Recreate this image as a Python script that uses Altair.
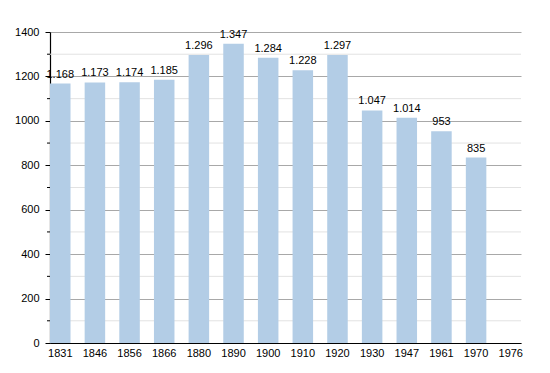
import altair as alt
import pandas as pd

years = ["1831", "1846", "1856", "1866", "1880", "1890", "1900", "1910", "1920",
         "1930", "1947", "1961", "1970", "1976"]
values = [1168, 1173, 1174, 1185, 1296, 1347, 1284, 1228, 1297, 1047, 1014, 953, 835, None]
major_ticks = [0, 200, 400, 600, 800, 1000, 1200, 1400]
minor_ticks = [100, 300, 500, 700, 900, 1100, 1300]

df = pd.DataFrame({"year": years, "value": values})
minor_df = pd.DataFrame({"v": minor_ticks})

FONT = "Liberation Sans"
BAR = "#b3cde6"

x_enc = alt.X("year:N", sort=years,
              scale=alt.Scale(domain=years, paddingInner=0.408, paddingOuter=0),
              axis=alt.Axis(title=None, labelAngle=0, ticks=False, domainColor="black",
                            domainWidth=1.2, labelFont=FONT, labelFontSize=11,
                            labelColor="black", labelPadding=4, grid=False))
y_scale = alt.Scale(domain=[0, 1400], nice=False)

minor_grid = alt.Chart(minor_df).mark_rule(color="#e2e2e2", strokeWidth=1).encode(
    y=alt.Y("v:Q", scale=y_scale),
    x=alt.value(0), x2=alt.value(471),
)
minor_tick = alt.Chart(minor_df).mark_rule(color="black", strokeWidth=1, clip=False).encode(
    y=alt.Y("v:Q", scale=y_scale),
    x=alt.value(-3), x2=alt.value(0),
)

bars = alt.Chart(df).mark_bar(color=BAR).encode(
    x=x_enc,
    y=alt.Y("value:Q", scale=y_scale,
            axis=alt.Axis(title=None, values=major_ticks, format="d", grid=True,
                          gridColor="#a8a8a8", gridWidth=1, domainColor="black",
                          domainWidth=1.2, tickColor="black", tickSize=5,
                          labelPadding=6, labelFont=FONT, labelFontSize=11,
                          labelColor="black")),
)

labels = alt.Chart(df).transform_filter("isValid(datum.value)").transform_calculate(
    lab="replace(format(datum.value, ','), ',', '.')"
).mark_text(font=FONT, fontSize=11, color="black", baseline="bottom", dy=-4).encode(
    x=alt.X("year:N", sort=years, scale=alt.Scale(domain=years)),
    y=alt.Y("value:Q", scale=y_scale),
    text="lab:N",
)

chart = alt.layer(minor_grid, bars, minor_tick, labels).properties(
    width=471, height=311,
    autosize=alt.AutoSizeParams(type="none"),
    padding={"left": 42, "top": 24, "right": 21, "bottom": 22},
).configure_view(stroke=None).configure_axis(gridOpacity=1)

chart.save("out.html", embed_options={"renderer": "svg", "actions": False})
